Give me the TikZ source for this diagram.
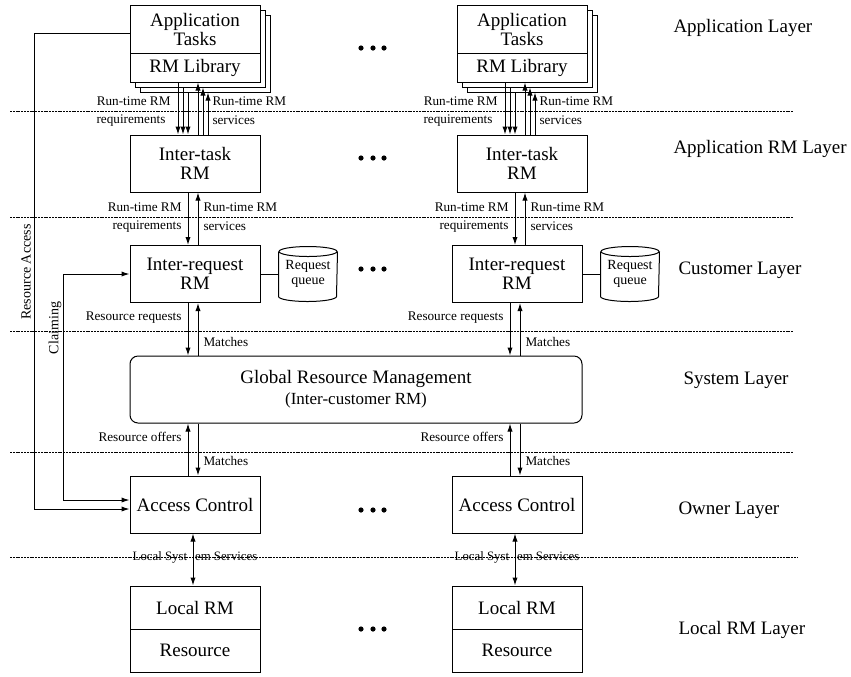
\documentclass[tikz,border=0pt]{standalone}
\usepackage{fontspec}
\setmainfont{Liberation Serif}
\usetikzlibrary{arrows.meta,calc}

\begin{document}
\begin{tikzpicture}[x=.5pt, y=-.5pt, line width=.5pt,
    >={Latex[length=4pt,width=2.6pt]},
    box/.style={draw, fill=white, minimum width=65pt, inner sep=0pt, align=center,
      font=\fontsize{9.5}{9.5}\selectfont},
    lbl/.style={inner sep=0pt, font=\fontsize{6.6}{7}\selectfont},
    layer/.style={anchor=west, inner sep=0pt, font=\fontsize{9.5}{10}\selectfont},
    sep/.style={dash pattern=on 1pt off .4pt}]
  \useasboundingbox (0,0) rectangle (851,676);
  % layer borders
  \foreach \y in {111,217,331,452} \draw [sep] (10,\y) -- (793,\y);
  \draw [sep] (10,557) -- (797,557);
  \node [layer] (lapp) at (673,28) {Application Layer};
  \node [layer] (lrm) at (673,149) {Application RM Layer};
  \node [layer] (lcus) at (678,270) {Customer Layer};
  \node [layer] (lsys) at (683,380) {System Layer};
  \node [layer] (lown) at (678,510) {Owner Layer};
  \node [layer] (lloc) at (678,630) {Local RM Layer};
  % global rm
  \node [box, rounded corners=4pt, minimum width=226pt, minimum height=33.5pt,
    font=\fontsize{9.5}{10.5}\selectfont] (grm) at (356,389.5)
    {Global Resource Management\\{\fontsize{8.5}{9}\selectfont (Inter-customer RM)}};
  % two columns
  \foreach \s/\a/\b in {L/195/195, R/522/517} {
    \foreach \d in {10,5}
      \draw [fill=white] (\a-65+\d,5+\d) rectangle (\a+65+\d,82+\d);
    \node [box, minimum height=24pt] (at\s) at (\a,29) {Application\\Tasks};
    \node [box, minimum height=14.5pt] (al\s) at (\a,67.5) {RM Library};
    \node [box, minimum height=28.5pt] (it\s) at (\a,163.5) {Inter-task\\RM};
    \node [box, minimum height=28.5pt] (ir\s) at (\b,274) {Inter-request\\RM};
    \node [box, minimum height=28.5pt] (ac\s) at (\b,504.5) {Access Control};
    \node [box, minimum height=21.5pt] (lm\s) at (\b,607.5) {Local RM};
    \node [box, minimum height=21.5pt] (rs\s) at (\b,650.5) {Resource};
    % request queue
    \node [lbl, minimum width=29pt, minimum height=29pt, align=center,
      font=\fontsize{7}{7.2}\selectfont] (rq\s) at (\b+113,274) {Request\\queue};
    \draw ($(rq\s.north)+(0,7)$) ellipse (29 and 5);
    \draw ($(rq\s.north west)+(0,7)$) -- ($(rq\s.south west)+(0,-7)$)
      arc (180:360:14.5pt and 2.5pt) -- ($(rq\s.north east)+(0,7)$);
    \draw (ir\s.east) -- (rq\s.west);
    % application -> inter-task
    \foreach \dx/\dy in {-17/0,-12/5,-7/10}
      \draw [->] ($(al\s.south)+(\dx,\dy)$) -- ($(it\s.north)+(\dx,0)$);
    \foreach \dx/\dy in {3/0,8/5,13/10}
      \draw [<-] ($(al\s.south)+(\dx,\dy)$) -- ($(it\s.north)+(\dx,0)$);
    \node [lbl, anchor=east] at ($(al\s.south)+(-24,19)$) {Run-time RM};
    \node [lbl, anchor=east] at ($(al\s.south)+(-29,38)$) {requirements};
    \node [lbl, anchor=west] at ($(al\s.south)+(17,19)$) {Run-time RM};
    \node [lbl, anchor=west] at ($(al\s.south)+(17,38)$) {services};
    % inter-task -> inter-request
    \draw [->] ($(it\s.south)+(-7,0)$) -- ($(it\s.south |- ir\s.north)+(-7,0)$);
    \draw [<-] ($(it\s.south)+(3,0)$) -- ($(it\s.south |- ir\s.north)+(3,0)$);
    \node [lbl, anchor=east] at ($(it\s.south)+(-13,15)$) {Run-time RM};
    \node [lbl, anchor=east] at ($(it\s.south)+(-13,34)$) {requirements};
    \node [lbl, anchor=west] at ($(it\s.south)+(8,15)$) {Run-time RM};
    \node [lbl, anchor=west] at ($(it\s.south)+(8,34)$) {services};
    % inter-request -> global
    \draw [->] ($(ir\s.south)+(-7,0)$) -- ($(ir\s.south |- grm.north)+(-7,0)$);
    \draw [<-] ($(ir\s.south)+(3,0)$) -- ($(ir\s.south |- grm.north)+(3,0)$);
    \node [lbl, anchor=east] at ($(ir\s.south)+(-13,15)$) {Resource requests};
    \node [lbl, anchor=west] at ($(ir\s.south)+(8,39)$) {Matches};
    % global -> access control
    \draw [<-] ($(ac\s.north |- grm.south)+(-7,0)$) -- ($(ac\s.north)+(-7,0)$);
    \draw [->] ($(ac\s.north |- grm.south)+(3,0)$) -- ($(ac\s.north)+(3,0)$);
    \node [lbl, anchor=east] at ($(ac\s.north)+(-13,-39)$) {Resource offers};
    \node [lbl, anchor=west] at ($(ac\s.north)+(8,-15)$) {Matches};
    % access control -> local rm
    \draw [<->] ($(ac\s.south)+(-2,0)$) -- ($(lm\s.north)+(-2,0)$);
    \node [lbl, font=\fontsize{6.4}{7}\selectfont] at ($(ac\s.south)+(0,24)$)
      {Local Syst\hspace{4pt}em Services};
  }
  % more columns
  \foreach \y in {48,158,269,510,629}
    \foreach \x in {361,373,384} \fill (\x,\y) circle (2.6);
  % claiming and access paths
  \coordinate (raX) at (34,0);
  \coordinate (clX) at (63,0);
  \coordinate (raS) at ($(atL.north west)+(0,29)$);
  \draw [->] (raS) -- (raS -| raX) |- ($(acL.west)+(0,4.5)$);
  \draw [<->] (irL.west) -- (irL.west -| clX) |- ($(acL.west)+(0,-4.5)$);
  \node [lbl, rotate=90, font=\fontsize{7}{7}\selectfont] (ra) at (26,272) {Resource Access};
  \node [lbl, rotate=90, font=\fontsize{7}{7}\selectfont] (cl) at (55,328) {Claiming};
\end{tikzpicture}
\end{document}
